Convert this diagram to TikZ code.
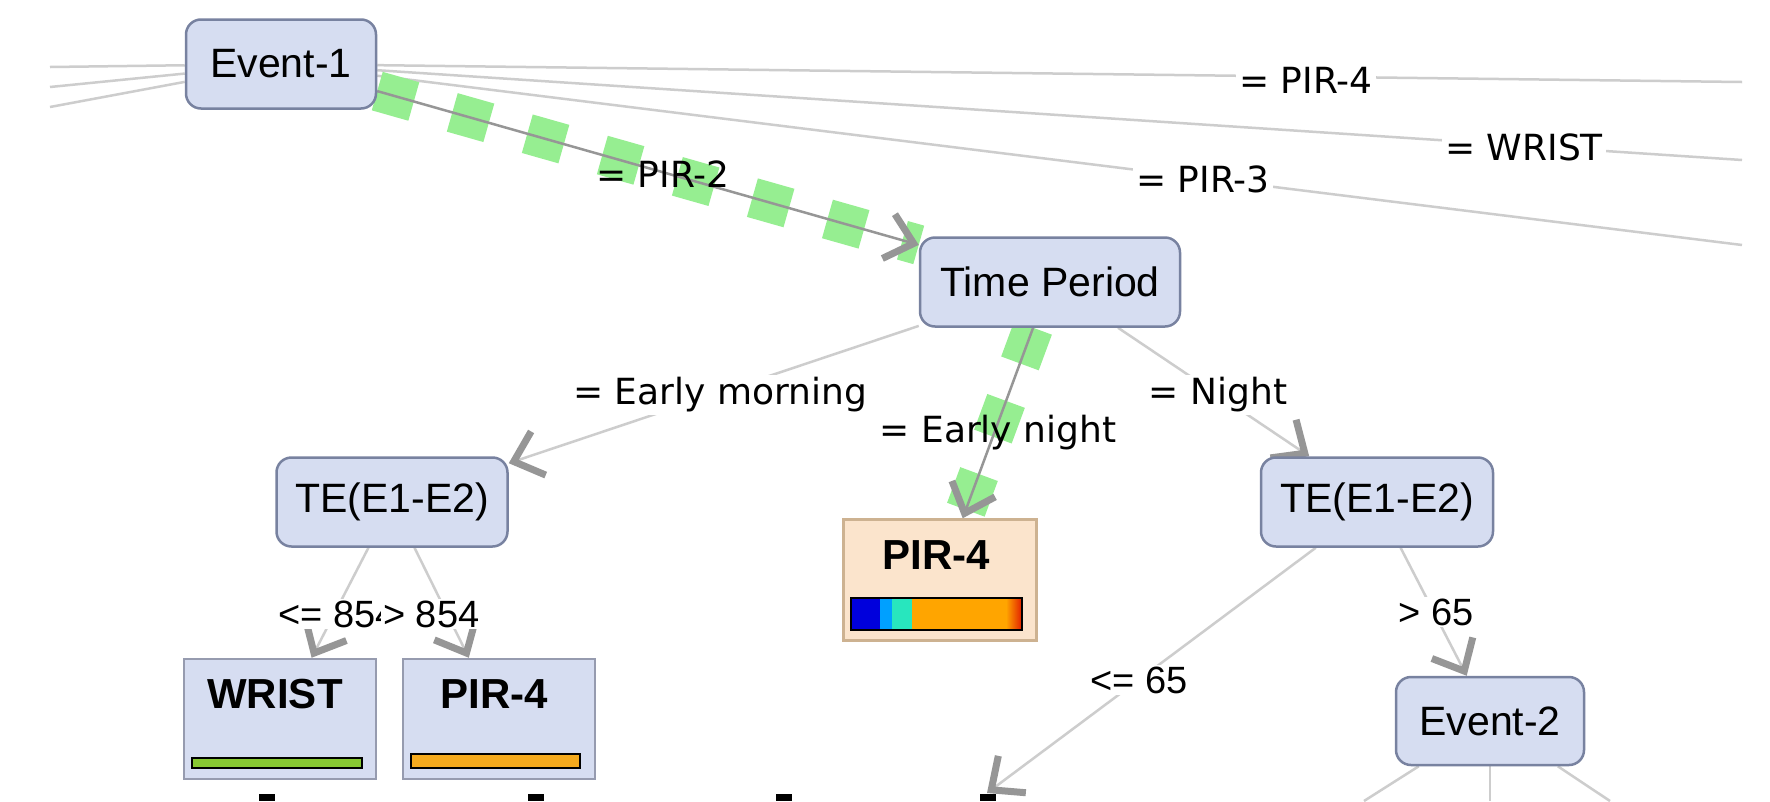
\documentclass[tikz,border=0pt]{standalone}
\usepackage{fontspec}
\setmainfont{Liberation Sans}
\newfontfamily\lblfont{DejaVu Sans}
\usetikzlibrary{arrows.meta}
\pgfdeclarelayer{bg}
\pgfsetlayers{bg,main}
\definecolor{nodefill}{RGB}{214,221,241}
\definecolor{nodeborder}{RGB}{120,130,160}
\definecolor{leafborder}{RGB}{150,155,175}
\definecolor{orangefill}{RGB}{251,228,204}
\definecolor{orangeborder}{RGB}{205,178,145}
\definecolor{edgegray}{RGB}{205,205,205}
\definecolor{pathgray}{RGB}{150,150,150}
\definecolor{hlgreen}{RGB}{150,238,145}
\definecolor{arrgray}{RGB}{150,150,150}
\definecolor{barGreen}{RGB}{135,200,50}
\definecolor{barOrange}{RGB}{245,170,30}
\definecolor{cbBlue}{RGB}{0,0,220}
\definecolor{cbLight}{RGB}{0,160,255}
\definecolor{cbTurq}{RGB}{40,230,190}
\definecolor{cbOrange}{RGB}{255,165,0}
\definecolor{cbRed}{RGB}{225,30,0}
\tikzset{
  dec/.style={rectangle, rounded corners=15pt, draw=nodeborder, line width=2.5pt, fill=nodefill, minimum height=89pt, inner sep=0pt, font=\fontsize{41}{48}\selectfont},
  leafbox/.style={rectangle, draw=leafborder, line width=2.5pt, fill=nodefill, minimum width=192pt, minimum height=120pt, inner sep=0pt},
  leaftitle/.style={font=\bfseries\fontsize{42}{48}\selectfont, inner sep=0pt},
  cbar/.style={rectangle, draw=black, line width=2.5pt, inner sep=0pt},
  lbl/.style={font=\lblfont\fontsize{36}{42}\selectfont, fill=white, inner sep=3pt},
  lblclear/.style={lbl, fill=none},
  numlbl/.style={font=\fontsize{38}{44}\selectfont, fill=white, inner sep=2pt},
  conn/.style={draw=edgegray, line width=2.5pt},
  hlpath/.style={draw=pathgray, line width=2.5pt},
  hl/.style={draw=hlgreen, line width=40pt, dash pattern=on 38pt off 40pt},
  arr/.style={-{Straight Barb[length=26pt,width=46pt,line width=7pt,color=arrgray]}},
}
\begin{document}
\begin{tikzpicture}[x=1pt,y=-1pt]
\useasboundingbox (0,0) rectangle (1770,801);

% decision nodes
\node[dec, minimum width=190pt] (ev1) at (281,64) {Event-1};
\node[dec, minimum width=260pt] (tp) at (1050,282) {Time Period};
\node[dec, minimum width=231pt] (teL) at (392,502) {TE(E1-E2)};
\node[dec, minimum width=232pt] (teR) at (1377,502) {TE(E1-E2)};
\node[dec, minimum width=188pt, minimum height=88pt] (ev2) at (1490,721) {Event-2};

% leaves
\node[leafbox] (wrist) at (280,719) {};
\node[leafbox] (pir4b) at (499,719) {};
\node[leafbox, fill=orangefill, draw=orangeborder, minimum width=193pt, minimum height=121pt] (pir4o) at (940,580) {};
\node[leaftitle] (wristT) at (275,694) {WRIST};
\node[leaftitle] (pir4bT) at (494,694) {PIR-4};
\node[leaftitle] (pir4oT) at (936,555) {PIR-4};
\node[cbar, fill=barGreen, minimum width=170pt, minimum height=10pt] (wristBar) at (277,763) {};
\node[cbar, fill=barOrange, minimum width=169pt, minimum height=14pt] (pir4bBar) at (495.5,761) {};
% colour bar of the highlighted leaf
\fill[cbBlue] (851,598) rectangle (880,630);
\fill[cbLight] (880,598) rectangle (892,630);
\fill[cbTurq] (892,598) rectangle (912,630);
\fill[cbOrange] (912,598) rectangle (1006,630);
\shade[left color=cbOrange, right color=cbRed] (1006,598) rectangle (1022,630);
\node[cbar, minimum width=171pt, minimum height=32pt] (pir4oBar) at (936.5,614) {};

% free ends
\coordinate (l1) at (50,67);
\coordinate (l2) at (50,87);
\coordinate (l3) at (50,107);
\coordinate (r1) at (1742,82);
\coordinate (r2) at (1742,160);
\coordinate (r3) at (1742,245);
\coordinate (cut) at (987,793);
\coordinate (b1) at (1364,801);
\coordinate (b2) at (1490,801);
\coordinate (b3) at (1610,801);

\begin{pgfonlayer}{bg}
\fill[white] (0,0) rectangle (1770,801);
\draw[conn] (ev1) -- (l1);
\draw[conn] (ev1) -- (l2);
\draw[conn] (ev1) -- (l3);
\draw[conn] (ev1) -- (r1);
\draw[conn] (ev1) -- (r2);
\draw[conn] (ev1) -- (r3);
\draw[conn, arr] (tp) -- (teL);
\draw[conn, arr] (tp) -- (teR);
\draw[conn, arr] (teL) -- (wrist);
\draw[conn, arr] (teL) -- (pir4b);
\draw[conn, arr] (teR) -- (cut);
\draw[conn, arr] (teR) -- (ev2);
\draw[conn] (ev2) -- (b1);
\draw[conn] (ev2) -- (b2);
\draw[conn] (ev2) -- (b3);
\draw[hl] (ev1) -- (tp);
\draw[hl] (tp) -- (pir4o);
\draw[hlpath, arr] (ev1) -- (tp);
\draw[hlpath, arr] (tp) -- (pir4o);
\end{pgfonlayer}

% edge labels
\node[lbl] (lPIR4) at (1306,80) {= PIR-4};
\node[lbl] (lWRIST) at (1524,147) {= WRIST};
\node[lbl] (lPIR3) at (1203,179) {= PIR-3};
\node[lblclear] (lPIR2) at (663,174) {= PIR-2};
\node[lbl] (lEM) at (720,395) {= Early morning};
\node[lblclear] (lEN) at (998,433) {= Early night};
\node[lbl] (lN) at (1218,395) {= Night};
\node[numlbl, anchor=west] (lle854) at (276,614) {<= 854};
\node[numlbl, anchor=west] (lgt854) at (381,614) {> 854};
\node[numlbl] (lgt65) at (1436,612) {> 65};
\node[numlbl] (lle65) at (1139,680) {<= 65};

% black marks at the bottom edge
\fill[black] (259,794) rectangle (275,801);
\fill[black] (528,794) rectangle (544,801);
\fill[black] (776,794) rectangle (792,801);
\fill[black] (980,794) rectangle (996,801);
\end{tikzpicture}
\end{document}
